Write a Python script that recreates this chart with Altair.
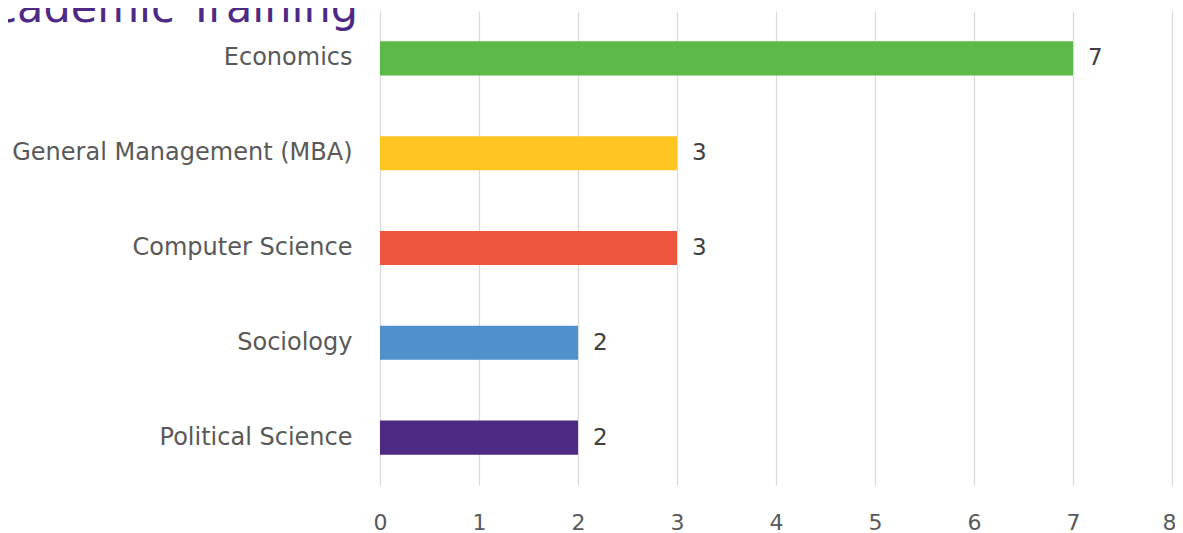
import altair as alt
import pandas as pd

categories = ["Economics", "General Management (MBA)", "Computer Science", "Sociology", "Political Science"]
values = [7, 3, 3, 2, 2]
colors = ["#5BB947", "#FFC520", "#EF5640", "#4F90CD", "#4E2A84"]
title_text = "Academic Training"
x_ticks = [0, 1, 2, 3, 4, 5, 6, 7, 8]

FONT = "DejaVu Sans"

df = pd.DataFrame({"category": categories, "value": values, "color": colors})

y_enc = alt.Y("category:N", sort=categories,
              scale=alt.Scale(paddingInner=0.64, paddingOuter=0.32),
              axis=alt.Axis(title=None, domain=False, ticks=False, grid=False,
                            labelPadding=28, labelFontSize=24, labelColor="#595959",
                            labelFont=FONT, labelLimit=400))
x_enc = alt.X("value:Q", scale=alt.Scale(domain=[0, 8], nice=False),
              axis=alt.Axis(title=None, values=x_ticks, format="d", domain=False, ticks=False,
                            grid=True, gridColor="#d9d9d9", gridWidth=1.2,
                            labelPadding=27, labelFontSize=22, labelColor="#595959",
                            labelFont=FONT, labelBaseline="top", labelFlush=False,
                            labelOffset=alt.condition("datum.value == 8", alt.value(-3), alt.value(0))))

bars = alt.Chart(df).mark_bar().encode(
    x=x_enc, y=y_enc, color=alt.Color("color:N", scale=None)
)
labels = alt.Chart(df).mark_text(align="left", baseline="middle", dx=15, fontSize=23,
                                 color="#404040", font=FONT).encode(
    x="value:Q", y=alt.Y("category:N", sort=categories), text="value:Q"
)
title = alt.Chart(pd.DataFrame({"t": [title_text]})).mark_text(
    align="right", baseline="alphabetic", fontSize=43, color="#4E2A84", font=FONT
).encode(x=alt.value(-22), y=alt.value(11), text="t:N")

chart = alt.layer(bars, labels, title).properties(
    width=792, height=474,
    autosize=alt.AutoSizeParams(type="none"),
    padding={"left": 372, "top": 3, "right": 3, "bottom": 48},
).configure_view(stroke=None)

chart.save("out.html", embed_options={"renderer": "svg", "actions": False})
